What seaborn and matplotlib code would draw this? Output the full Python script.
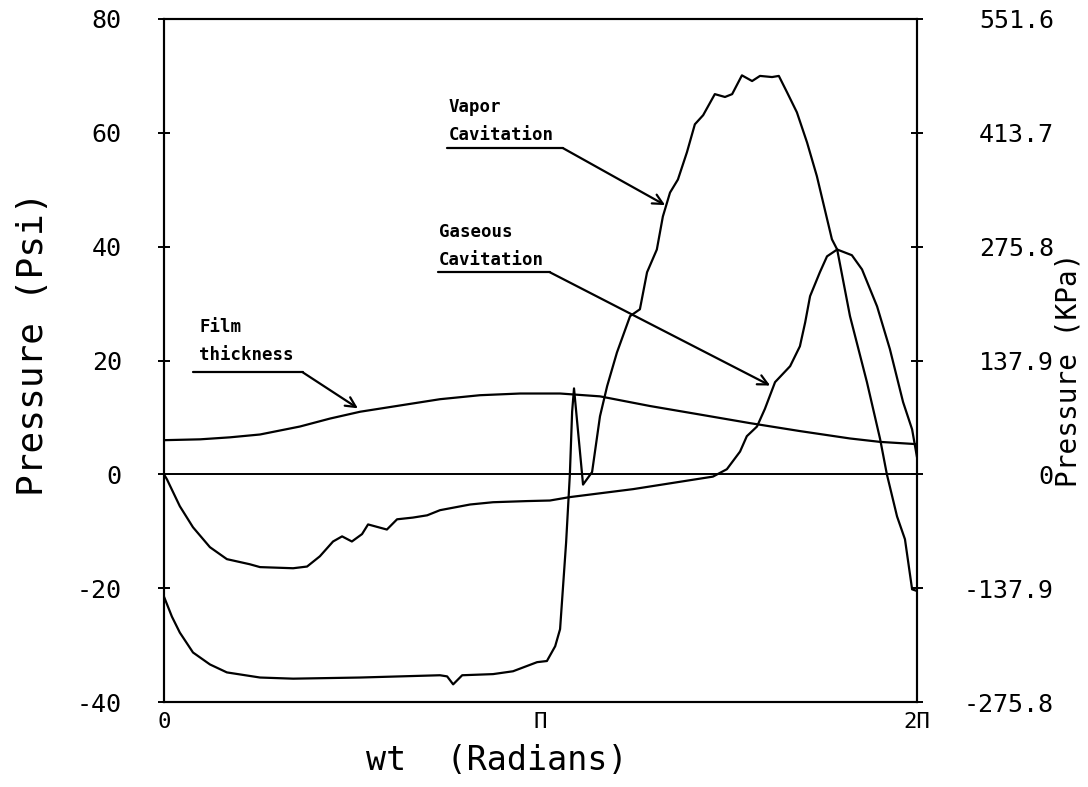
import numpy as np
import pandas as pd
import matplotlib
matplotlib.use("Agg")
import matplotlib.pyplot as plt
import seaborn as sns

# ---- data (x in units of pi) ----
film_x = [0.000, 0.096, 0.175, 0.255, 0.361, 0.441, 0.521, 0.627, 0.733, 0.839,
          0.946, 1.052, 1.158, 1.291, 1.424, 1.556, 1.689, 1.822, 1.902, 2.000]
film_y = [6.0, 6.15, 6.5, 7.0, 8.4, 9.8, 11.0, 12.1, 13.2, 13.9,
          14.2, 14.2, 13.7, 12.0, 10.5, 9.0, 7.6, 6.3, 5.7, 5.3]

gas_x = [0.000, 0.008, 0.042, 0.077, 0.122, 0.167, 0.228, 0.255, 0.343, 0.380,
         0.414, 0.449, 0.473, 0.499, 0.526, 0.542, 0.592, 0.619, 0.661, 0.699,
         0.733, 0.813, 0.874, 0.964, 1.025, 1.078, 1.246, 1.458, 1.495, 1.530,
         1.548, 1.575, 1.596, 1.623, 1.663, 1.689, 1.703, 1.716, 1.742, 1.761,
         1.788, 1.827, 1.854, 1.894, 1.928, 1.963, 1.987, 2.000]
gas_y = [0.0, -0.9, -5.6, -9.3, -12.8, -14.9, -15.8, -16.3, -16.5, -16.2,
         -14.4, -11.8, -10.9, -11.8, -10.5, -8.8, -9.7, -7.9, -7.6, -7.2,
         -6.3, -5.3, -4.9, -4.7, -4.6, -4.0, -2.6, -0.4, 0.9, 4.0,
         6.7, 8.4, 11.5, 16.2, 19.0, 22.5, 26.7, 31.3, 35.5, 38.3,
         39.5, 38.5, 36.0, 29.5, 22.0, 12.7, 7.9, 3.0]

vap_x = [0.000, 0.021, 0.042, 0.077, 0.122, 0.167, 0.255, 0.343, 0.521, 0.733,
         0.752, 0.768, 0.792, 0.874, 0.927, 0.991, 1.017, 1.039, 1.052, 1.068,
         1.078, 1.084, 1.089, 1.113, 1.137, 1.158, 1.177, 1.203, 1.238, 1.264,
         1.283, 1.309, 1.325, 1.344, 1.365, 1.389, 1.410, 1.432, 1.463, 1.490,
         1.509, 1.535, 1.562, 1.583, 1.615, 1.633, 1.655, 1.681, 1.708, 1.734,
         1.774, 1.788, 1.822, 1.867, 1.902, 1.920, 1.947, 1.968, 1.987, 2.000]
vap_y = [-21.5, -25.0, -27.8, -31.3, -33.4, -34.8, -35.7, -35.9, -35.7, -35.3,
         -35.5, -36.9, -35.3, -35.1, -34.6, -33.0, -32.8, -30.2, -27.2, -12.0,
         0.0, 11.0, 15.1, -1.8, 0.4, 10.2, 15.5, 21.4, 27.8, 29.0,
         35.5, 39.5, 45.3, 49.5, 51.8, 56.6, 61.5, 63.1, 66.8, 66.3,
         66.8, 70.1, 69.1, 70.0, 69.8, 70.0, 67.1, 63.6, 58.3, 52.4,
         41.3, 39.5, 27.8, 16.2, 6.2, 0.0, -7.4, -11.4, -20.2, -20.5]

psi_ticks = [80, 60, 40, 20, 0, -20, -40]
kpa_ticks = [551.6, 413.7, 275.8, 137.9, 0, -137.9, -275.8]
kpa_labels = ["551.6", "413.7", "275.8", "137.9", "0", "-137.9", "-275.8"]
x_tick_pi = [0, 0.25, 0.5, 0.75, 1.0, 1.25, 1.5, 1.75, 2.0]
x_tick_labels = ["0", "", "", "", "Π", "", "", "", "2Π"]

PI = np.pi
df_film = pd.DataFrame({"wt": np.array(film_x) * PI, "p": film_y})
df_gas = pd.DataFrame({"wt": np.array(gas_x) * PI, "p": gas_y})
df_vap = pd.DataFrame({"wt": np.array(vap_x) * PI, "p": vap_y})

sns.set_theme(style="white")
plt.rcParams["font.family"] = ["DejaVu Sans Mono", "DejaVu Sans"]
plt.rcParams["text.color"] = "black"
plt.rcParams["axes.labelcolor"] = "black"
plt.rcParams["xtick.color"] = "black"
plt.rcParams["ytick.color"] = "black"

fig = plt.figure(figsize=(10.88, 7.87), dpi=100)
ax = fig.add_axes([164 / 1088, 1 - 702 / 787, (917 - 164) / 1088, (702 - 19) / 787])

lw = 1.6
for d in (df_film, df_gas, df_vap):
    sns.lineplot(data=d, x="wt", y="p", ax=ax, color="black", linewidth=lw,
                 sort=False, estimator=None)
ax.axhline(0, color="black", linewidth=1.4)

ax.set_xlim(0, 2 * PI)
ax.set_ylim(-40, 80)
ax.set_xticks(np.array(x_tick_pi) * PI)
ax.set_xticklabels(x_tick_labels)
ax.set_yticks(psi_ticks)
ax.set_yticklabels([str(t) for t in psi_ticks])

for s in ax.spines.values():
    s.set_color("black")
    s.set_linewidth(1.5)
ax.tick_params(axis="both", direction="inout", length=9, width=1.4, color="black",
               labelcolor="black")
ax.tick_params(axis="y", labelsize=18, pad=26)
ax.tick_params(axis="x", labelsize=16, pad=3)

ax.set_xlabel("wt  (Radians)", fontsize=24, color="black")
ax.xaxis.set_label_coords(0.442, -0.062)
ax.set_ylabel("Pressure (Psi)", fontsize=26, color="black")
ax.yaxis.set_label_coords(-0.152, 0.525)

ax2 = ax.twinx()
ax2.set_ylim(-275.8, 551.6)
ax2.set_yticks(kpa_ticks)
ax2.set_yticklabels(kpa_labels)
ax2.tick_params(axis="y", direction="inout", length=9, width=1.4, color="black",
                labelcolor="black", labelsize=18, pad=94)
for lab in ax2.get_yticklabels():
    lab.set_horizontalalignment("right")
for s in ax2.spines.values():
    s.set_color("black")
    s.set_linewidth(1.5)
ax2.set_ylabel("Pressure (KPa)", fontsize=20, color="black")
ax2.yaxis.set_label_coords(1.183, 0.486)

# ---- annotations ----
afont = dict(fontsize=12.5, fontweight="bold", color="black", va="center", ha="left")
arrow = dict(arrowstyle="->", color="black", lw=1.6, mutation_scale=18,
             shrinkA=0, shrinkB=0)

def callout(lines, tx, ty, x0, x1, yu, tipx, tipy, dy):
    for i, t in enumerate(lines):
        ax.text(tx * PI, ty - i * dy, t, **afont)
    ax.plot([x0 * PI, x1 * PI], [yu, yu], color="black", lw=1.6)
    ax.annotate("", xy=(tipx * PI, tipy), xytext=(x1 * PI, yu), arrowprops=arrow)

callout(["Vapor", "Cavitation"], 0.756, 64.5, 0.752, 1.060, 57.3, 1.331, 47.3, 4.9)
callout(["Gaseous", "Cavitation"], 0.730, 42.5, 0.728, 1.025, 35.5, 1.610, 15.6, 4.9)
callout(["Film", "thickness"], 0.093, 25.8, 0.077, 0.369, 17.9, 0.515, 11.6, 4.9)

fig.savefig("out.png", dpi=100)
